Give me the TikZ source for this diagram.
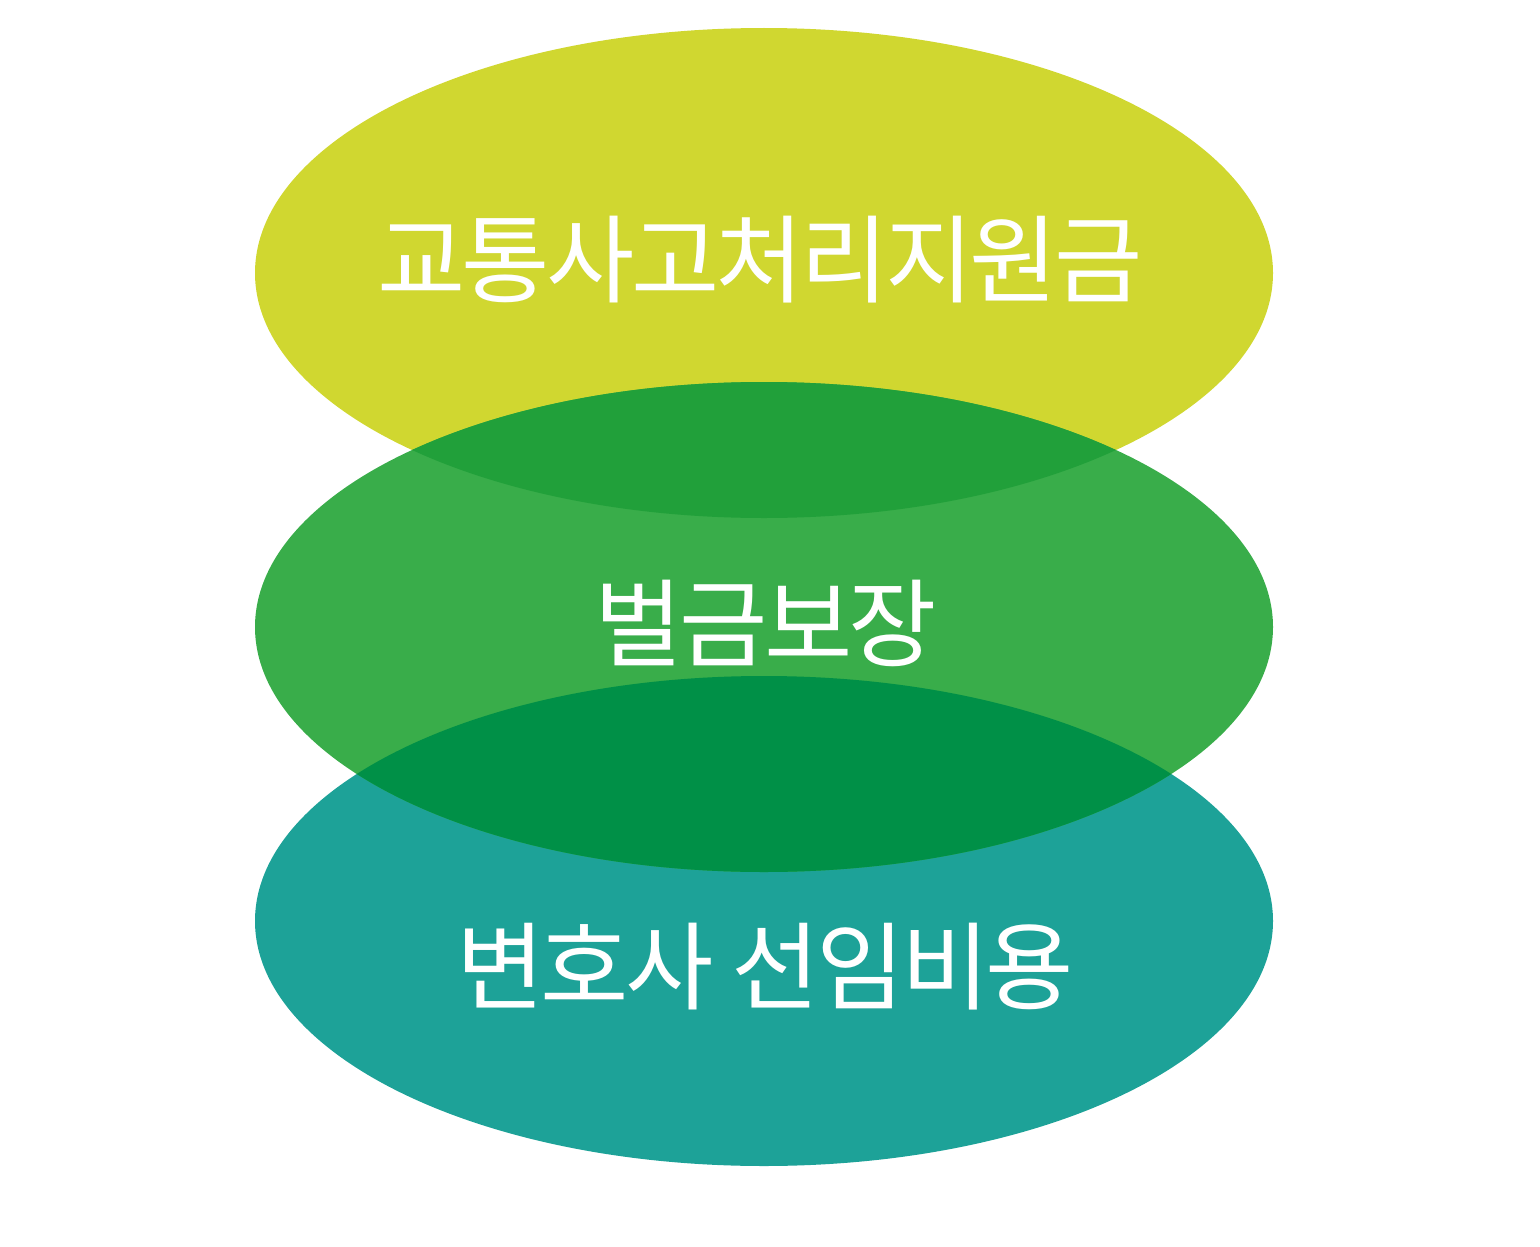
\documentclass[tikz,border=0pt]{standalone}
\usepackage{fontspec}
\usepackage{xcolor}
\usepackage{tikz}
\usetikzlibrary{positioning}
\newfontfamily\krfont[LetterSpace=-3.8]{Noto Sans CJK KR}
\definecolor{accidentYellow}{HTML}{D0D730}
\definecolor{fineGreen}{HTML}{39AD4A}
\definecolor{lawyerTeal}{HTML}{1DA298}
\definecolor{overlapUpper}{HTML}{21A03A}
\definecolor{overlapLower}{HTML}{009047}

\begin{document}
\begin{tikzpicture}[
    x=1pt, y=-1pt,
    disc/.style={x radius=509, y radius=245},
    label/.style={inner sep=0pt, text=white, font=\krfont\fontsize{96}{110}\selectfont, text height=0.82em, text depth=0.08em}
]
\useasboundingbox (0,0) rectangle (1540,1247);
% Centres
\coordinate (topc) at (764,273);
\coordinate (midc) at (764,627);
\coordinate (botc) at (764,921);
% Ellipses
\fill[accidentYellow] (topc) ellipse [disc];
\fill[lawyerTeal] (botc) ellipse [disc];
\fill[fineGreen] (midc) ellipse [disc];
% Overlaps
\begin{scope}
  \clip (topc) ellipse [disc];
  \fill[overlapUpper] (midc) ellipse [disc];
\end{scope}
\begin{scope}
  \clip (botc) ellipse [disc];
  \fill[overlapLower] (midc) ellipse [disc];
\end{scope}
% Labels
\node[label] (support) at (760,292) {교통사고처리지원금};
\node[label] (fine) at (766,656) {벌금보장};
\node[label] (lawyer) at (765,999) {변호사 선임비용};
\end{tikzpicture}
\end{document}
